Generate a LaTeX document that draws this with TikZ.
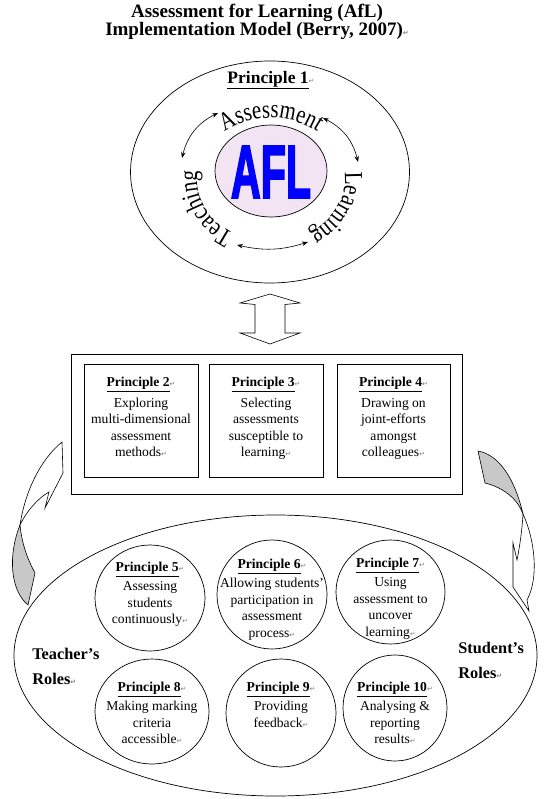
\documentclass[tikz,border=0pt]{standalone}
\usepackage{fontspec}
\setmainfont{Liberation Serif}
\newfontfamily\symfont{DejaVu Sans}
\newfontfamily\aflfont[FakeBold=3]{Liberation Sans}
\newfontfamily\wordfont[FakeStretch=0.8]{Liberation Serif}
\usetikzlibrary{positioning, shapes.geometric, decorations.text, arrows.meta}

\definecolor{aflpink}{RGB}{242,228,242}
\definecolor{aflblue}{RGB}{0,0,255}
\definecolor{wingray}{RGB}{200,200,200}

\newcommand{\retmark}{{\symfont\fontsize{7}{7}\selectfont\textcolor{gray}{↵}}}
\newcommand{\ptitle}[1]{\textbf{\underline{#1}}\retmark}
\newcommand{\wordart}{\wordfont\fontsize{26}{26}\selectfont}

\begin{document}
\begin{tikzpicture}[x=1pt, y=1pt, line width=0.7pt,
  pbox/.style = {draw, minimum width=114pt, minimum height=113pt, inner sep=0pt},
  pcirc/.style = {draw, ellipse, inner sep=0pt},
  ptext/.style = {align=center, inner sep=0pt, font=\fontsize{13.6}{16.4}\selectfont},
  roles/.style = {align=left, inner sep=0pt, font=\fontsize{16.3}{25}\selectfont\bfseries},
  arc text/.style = {decorate, decoration={text along path, text align=center, text={|\wordart|#1}}},
  dbl/.style = {{Stealth[length=6pt, width=4.5pt]}-{Stealth[length=6pt, width=4.5pt]}, line width=0.6pt},
  wing/.style = {draw, line width=0.6pt}]

\useasboundingbox (0,0) rectangle (544,-799);

% title
\node[align=center, inner sep=0pt, font=\fontsize{19}{18.5}\selectfont\bfseries] (title) at (257,-22)
  {Assessment for Learning (AfL)\\Implementation Model (Berry, 2007)\retmark};

% principle 1
\node[draw, ellipse, minimum width=279pt, minimum height=222pt, inner sep=0pt] (p1) at (270,-172) {};
\node[inner sep=0pt, font=\fontsize{17.5}{20}\selectfont] (p1t) at (271,-80) {\ptitle{Principle 1}};
\node[draw, ellipse, fill=aflpink, minimum width=112pt, minimum height=92pt, inner sep=0pt] (afl) at (271,-171) {};
\node[inner sep=0pt, text=aflblue, xscale=0.55, font=\aflfont\bfseries\fontsize{75}{75}\selectfont] (afltxt) at (271,-172) {AFL};

\path[arc text={Assessment}] (271,-180) ++(150:74pt and 62pt) arc[start angle=150, end angle=30, x radius=74pt, y radius=62pt];
\path[arc text={Learning}] (271,-180) ++(20:74pt and 62pt) arc[start angle=20, end angle=-70, x radius=74pt, y radius=62pt];
\path[arc text={Teaching}] (271,-180) ++(250:74pt and 62pt) arc[start angle=250, end angle=160, x radius=74pt, y radius=62pt];

\coordinate (aA) at (218,-113);
\coordinate (aT) at (182,-158);
\coordinate (bA) at (323,-118);
\coordinate (bL) at (358,-162);
\coordinate (cT) at (237,-245);
\coordinate (cL) at (308,-242);
\draw[dbl] (aA) to[bend right=25] (aT);
\draw[dbl] (bA) to[bend left=25] (bL);
\draw[dbl] (cT) to[bend right=15] (cL);

% hollow double arrow
\draw[line width=0.6pt] (270,-294) -- (300,-303) -- (285,-304.5) -- (285,-333) -- (300,-333) -- (270,-344)
  -- (240,-333) -- (255,-333) -- (255,-304.5) -- (240,-303) -- cycle;

% principles 2 to 4
\node[draw, minimum width=391pt, minimum height=140pt, inner sep=0pt] (mid) at (266.5,-424) {};
\node[pbox] (b2) at (141,-420.5) {};
\node[pbox] (b3) at (266,-420.5) {};
\node[pbox, minimum width=113pt] (b4) at (393.5,-420.5) {};
\node[ptext, below=13pt of b2.north] (t2) {\ptitle{Principle 2}\\[4.5pt]Exploring\\multi-dimensional\\assessment\\methods\retmark};
\node[ptext, below=13pt of b3.north] (t3) {\ptitle{Principle 3}\\[4.5pt]Selecting\\assessments\\susceptible to\\learning\retmark};
\node[ptext, below=13pt of b4.north] (t4) {\ptitle{Principle 4}\\[4.5pt]Drawing on\\joint-efforts\\amongst\\colleagues\retmark};

% roles
\node[draw, ellipse, minimum width=523pt, minimum height=281pt, inner sep=0pt] (roles) at (275.5,-655.5) {};

% side arrows
\draw[wing, fill=white] (62,-442) -- (63,-473) -- (45,-508) -- (49,-492) .. controls (38,-498) and (26,-512) .. (20,-525)
  .. controls (25,-492) and (40,-460) .. (62,-442) -- cycle;
\draw[wing, fill=wingray] (20,-525) .. controls (8,-555) and (10,-590) .. (28,-605) -- (35,-573)
  .. controls (28,-560) and (22,-545) .. (20,-525) -- cycle;
\draw[wing, fill=wingray] (478,-451) -- (485,-483) .. controls (505,-488) and (518,-500) .. (523,-514)
  .. controls (515,-480) and (500,-455) .. (478,-451) -- cycle;
\draw[wing, fill=white] (523,-514) .. controls (535,-540) and (539,-578) .. (527,-600) -- (529,-611) -- (513,-587)
  -- (513,-543) -- (517,-560) .. controls (520,-545) and (522,-530) .. (523,-514) -- cycle;

% principles 5 to 10
\node[pcirc, minimum width=110pt, minimum height=106pt] (c5) at (150,-598) {};
\node[pcirc, minimum width=110pt, minimum height=109pt] (c6) at (272,-594.5) {};
\node[pcirc, minimum width=109pt, minimum height=104pt] (c7) at (390.5,-592) {};
\node[pcirc, minimum width=114pt, minimum height=105pt] (c8) at (152,-711.5) {};
\node[pcirc, minimum width=110pt, minimum height=108pt] (c9) at (281,-713) {};
\node[pcirc, minimum width=104pt, minimum height=106pt] (c10) at (395,-708) {};
\node[ptext, below=17pt of c5.north] (t5) {\ptitle{Principle 5}\\[3pt]Assessing\\students\\continuously\retmark};
\node[ptext, below=19pt of c6.north] (t6) {\ptitle{Principle 6}\\[3pt]Allowing students’\\participation in\\assessment\\process\retmark};
\node[ptext, below=18pt of c7.north] (t7) {\ptitle{Principle 7}\\[3pt]Using\\assessment to\\uncover\\learning\retmark};
\node[ptext, below=23pt of c8.north] (t8) {\ptitle{Principle 8}\\[3pt]Making marking\\criteria\\accessible\retmark};
\node[ptext, below=23pt of c9.north] (t9) {\ptitle{Principle 9}\\[3pt]Providing\\feedback\retmark};
\node[ptext, below=27pt of c10.north] (t10) {\ptitle{Principle 10}\\[3pt]Analysing \&\\reporting\\results\retmark};

\node[roles, anchor=north west] (teacher) at (32,-647.5) {Teacher’s\\Roles\retmark};
\node[roles, anchor=north west] (student) at (458,-641.5) {Student’s\\Roles\retmark};
\end{tikzpicture}
\end{document}
